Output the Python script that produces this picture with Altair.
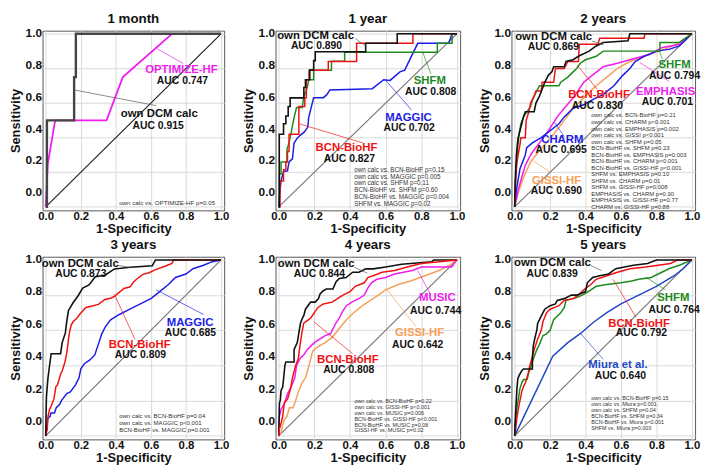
import altair as alt
import pandas as pd

FONT = "Liberation Sans"
TICKS = [0.0, 0.2, 0.4, 0.6, 0.8, 1.0]
X_DOMAIN = [-0.018, 1.018]
Y_DOMAIN = [-0.02, 1.018]
YLABEL_DOMAIN = [-0.115, 1.01]

C_OWN = "#111111"
C_RED = "#f01212"
C_BLUE = "#1c1ce6"
C_MIURA = "#2046c4"
C_GREEN = "#1e8a1e"
C_MAG = "#f01cf0"
C_ORANGE = "#f5a058"

TITLES = ["1 month", "1 year", "2 years", "3 years", "4 years", "5 years"]

# ---------------- curve data (1-specificity, sensitivity) ----------------
M1_OWN = [(0, 0), (0.007, 0.0), (0.007, 0.5), (0.162, 0.5), (0.162, 0.75), (0.172, 0.75), (0.172, 1.0), (1, 1)]
M1_OPT = [(0, 0), (0.012, 0.25), (0.054, 0.5), (0.347, 0.5), (0.44, 0.75), (0.72, 1.0), (1, 1)]

Y1_OWN = [(0, 0), (0.003, 0.0), (0.003, 0.42), (0.027, 0.42), (0.027, 0.48), (0.04, 0.48), (0.04, 0.525),
          (0.053, 0.525), (0.053, 0.58), (0.064, 0.58), (0.064, 0.63), (0.141, 0.63), (0.141, 0.69),
          (0.15, 0.69), (0.15, 0.735), (0.174, 0.735), (0.174, 0.79), (0.196, 0.79), (0.196, 0.845),
          (0.205, 0.845), (0.205, 0.896), (0.488, 0.896), (0.488, 0.945), (0.665, 0.945), (0.665, 1.0), (1, 1)]
Y1_BCN = [(0, 0), (0.007, 0.0), (0.007, 0.15), (0.027, 0.15), (0.027, 0.214), (0.04, 0.214), (0.04, 0.26),
          (0.049, 0.26), (0.049, 0.32), (0.058, 0.32), (0.058, 0.42), (0.113, 0.42), (0.113, 0.58),
          (0.146, 0.58), (0.146, 0.63), (0.155, 0.63), (0.155, 0.735), (0.17, 0.735), (0.17, 0.79),
          (0.278, 0.79), (0.278, 0.84), (0.437, 0.84), (0.437, 0.945), (0.753, 0.945), (0.753, 1.0), (1, 1)]
Y1_SHFM = [(0, 0), (0.004, 0.0), (0.004, 0.19), (0.013, 0.19), (0.013, 0.26), (0.046, 0.26), (0.046, 0.333),
           (0.055, 0.36), (0.068, 0.42), (0.086, 0.516), (0.1, 0.574), (0.132, 0.574), (0.14, 0.634),
           (0.16, 0.689), (0.168, 0.735), (0.196, 0.735), (0.196, 0.79), (0.296, 0.79), (0.296, 0.841),
           (0.37, 0.841), (0.37, 0.894), (0.89, 0.894), (0.89, 0.945), (0.973, 0.945), (0.973, 1.0), (1, 1)]
Y1_MAGGIC = [(0, 0), (0.007, 0.095), (0.013, 0.15), (0.027, 0.205), (0.049, 0.208), (0.058, 0.26),
             (0.077, 0.278), (0.086, 0.369), (0.104, 0.397), (0.122, 0.415), (0.144, 0.433), (0.163, 0.461),
             (0.168, 0.516), (0.196, 0.631), (0.25, 0.631), (0.269, 0.647), (0.287, 0.676), (0.525, 0.683),
             (0.589, 0.735), (0.625, 0.731), (0.68, 0.78), (0.707, 0.79), (0.78, 0.945), (0.954, 0.945),
             (0.973, 1.0), (1, 1)]

Y2_OWN = [(0, 0), (0.004, 0.17), (0.01, 0.3), (0.015, 0.36), (0.02, 0.4), (0.03, 0.44), (0.04, 0.48),
          (0.05, 0.52), (0.06, 0.55), (0.11, 0.55), (0.12, 0.6), (0.14, 0.64), (0.155, 0.68), (0.17, 0.72),
          (0.19, 0.76), (0.21, 0.78), (0.22, 0.81), (0.28, 0.81), (0.29, 0.84), (0.33, 0.85), (0.36, 0.87),
          (0.42, 0.9), (0.46, 0.93), (0.5, 0.95), (0.64, 0.96), (0.65, 1.0), (1, 1)]
Y2_BCN = [(0, 0), (0.005, 0.15), (0.012, 0.25), (0.02, 0.3), (0.03, 0.36), (0.035, 0.4), (0.06, 0.4),
          (0.065, 0.5), (0.08, 0.55), (0.09, 0.6), (0.11, 0.64), (0.12, 0.67), (0.15, 0.67), (0.155, 0.72),
          (0.22, 0.72), (0.23, 0.8), (0.28, 0.8), (0.3, 0.84), (0.36, 0.84), (0.365, 0.94), (0.47, 0.94),
          (0.48, 0.975), (0.73, 0.975), (0.735, 1.0), (1, 1)]
Y2_SHFM = [(0, 0), (0.004, 0.12), (0.01, 0.25), (0.018, 0.35), (0.025, 0.42), (0.035, 0.48), (0.05, 0.52),
           (0.07, 0.55), (0.09, 0.58), (0.1, 0.62), (0.12, 0.66), (0.14, 0.7), (0.25, 0.7), (0.26, 0.72),
           (0.3, 0.75), (0.33, 0.78), (0.35, 0.8), (0.37, 0.83), (0.4, 0.85), (0.46, 0.87), (0.5, 0.9),
           (0.82, 0.9), (0.82, 0.95), (0.93, 0.95), (0.97, 0.98), (1, 1)]
Y2_CHARM = [(0, 0), (0.01, 0.1), (0.03, 0.22), (0.06, 0.3), (0.068, 0.342), (0.1, 0.37), (0.15, 0.4),
            (0.2, 0.44), (0.25, 0.48), (0.28, 0.52), (0.33, 0.57), (0.39, 0.59), (0.44, 0.62), (0.5, 0.65),
            (0.56, 0.7), (0.61, 0.76), (0.65, 0.8), (0.68, 0.84), (0.73, 0.87), (0.8, 0.9), (0.87, 0.91),
            (0.93, 0.93), (1, 1)]
Y2_EMPH = [(0, 0), (0.02, 0.1), (0.04, 0.17), (0.06, 0.24), (0.09, 0.3), (0.11, 0.33), (0.14, 0.37),
           (0.19, 0.44), (0.24, 0.52), (0.28, 0.57), (0.33, 0.63), (0.39, 0.72), (0.45, 0.77), (0.5, 0.81),
           (0.58, 0.83), (0.65, 0.85), (0.76, 0.88), (0.83, 0.92), (0.93, 0.94), (1, 1)]
Y2_GISSI = [(0, 0), (0.02, 0.08), (0.05, 0.17), (0.09, 0.26), (0.12, 0.3), (0.17, 0.36), (0.22, 0.42),
            (0.28, 0.5), (0.33, 0.57), (0.4, 0.64), (0.46, 0.7), (0.52, 0.75), (0.58, 0.8), (0.65, 0.84),
            (0.76, 0.88), (0.87, 0.92), (0.93, 0.95), (1, 1)]

Y3_OWN = [(0, 0), (0.004, 0.22), (0.013, 0.33), (0.022, 0.4), (0.031, 0.467), (0.085, 0.467), (0.094, 0.53),
          (0.112, 0.585), (0.121, 0.658), (0.13, 0.713), (0.157, 0.758), (0.184, 0.795), (0.211, 0.84),
          (0.247, 0.858), (0.283, 0.904), (0.338, 0.913), (0.392, 0.949), (0.482, 0.958), (0.608, 0.967),
          (0.626, 1.0), (1, 1)]
Y3_BCN = [(0, 0), (0.009, 0.04), (0.013, 0.11), (0.022, 0.15), (0.031, 0.17), (0.047, 0.21), (0.058, 0.28),
          (0.067, 0.29), (0.085, 0.35), (0.094, 0.37), (0.11, 0.42), (0.12, 0.47), (0.13, 0.55),
          (0.135, 0.585), (0.145, 0.63), (0.157, 0.65), (0.175, 0.665), (0.193, 0.69), (0.211, 0.71),
          (0.229, 0.73), (0.265, 0.738), (0.3, 0.747), (0.338, 0.775), (0.374, 0.784), (0.392, 0.793),
          (0.446, 0.838), (0.482, 0.847), (0.5, 0.873), (0.518, 0.89), (0.554, 0.918), (0.59, 0.927),
          (0.626, 0.945), (0.68, 0.964), (0.72, 0.98), (0.73, 1.0), (1, 1)]
Y3_MAGGIC = [(0, 0), (0.005, 0.04), (0.012, 0.1), (0.025, 0.11), (0.03, 0.13), (0.05, 0.13), (0.06, 0.16),
             (0.08, 0.18), (0.09, 0.2), (0.12, 0.24), (0.14, 0.25), (0.17, 0.29), (0.19, 0.33), (0.2, 0.38),
             (0.22, 0.41), (0.25, 0.43), (0.28, 0.46), (0.3, 0.52), (0.32, 0.58), (0.34, 0.62), (0.37, 0.66),
             (0.42, 0.69), (0.48, 0.72), (0.54, 0.75), (0.6, 0.78), (0.65, 0.82), (0.7, 0.86), (0.74, 0.9),
             (0.8, 0.92), (0.84, 0.95), (0.9, 0.97), (0.95, 0.99), (1, 1)]

Y4_OWN = [(0, 0), (0.004, 0.185), (0.009, 0.204), (0.013, 0.258), (0.022, 0.276), (0.027, 0.322),
          (0.035, 0.404), (0.04, 0.42), (0.086, 0.42), (0.086, 0.49), (0.104, 0.53), (0.113, 0.585),
          (0.122, 0.64), (0.132, 0.667), (0.141, 0.685), (0.15, 0.72), (0.168, 0.745), (0.179, 0.76),
          (0.205, 0.76), (0.223, 0.78), (0.232, 0.807), (0.25, 0.825), (0.267, 0.835), (0.304, 0.835),
          (0.322, 0.876), (0.34, 0.895), (0.378, 0.9), (0.415, 0.93), (0.45, 0.93), (0.488, 0.949),
          (0.53, 0.949), (0.6, 0.96), (0.69, 0.975), (0.86, 0.99), (0.87, 1.0), (1, 1)]
Y4_BCN = [(0, 0), (0.004, 0.04), (0.013, 0.07), (0.022, 0.11), (0.031, 0.185), (0.05, 0.21), (0.068, 0.275),
          (0.077, 0.33), (0.095, 0.4), (0.11, 0.44), (0.12, 0.52), (0.13, 0.585), (0.14, 0.64), (0.16, 0.655),
          (0.18, 0.67), (0.2, 0.7), (0.22, 0.73), (0.25, 0.75), (0.3, 0.76), (0.33, 0.78), (0.36, 0.8),
          (0.4, 0.82), (0.43, 0.85), (0.48, 0.87), (0.5, 0.9), (0.53, 0.91), (0.58, 0.93), (0.65, 0.94),
          (0.72, 0.96), (0.8, 0.98), (0.9, 0.99), (1, 1)]
Y4_MUSIC = [(0, 0), (0.004, 0.11), (0.013, 0.15), (0.03, 0.18), (0.05, 0.24), (0.07, 0.28), (0.09, 0.33),
            (0.1, 0.4), (0.12, 0.44), (0.14, 0.46), (0.16, 0.49), (0.18, 0.51), (0.2, 0.53), (0.23, 0.55),
            (0.26, 0.57), (0.29, 0.58), (0.3, 0.6), (0.32, 0.64), (0.34, 0.67), (0.36, 0.71), (0.38, 0.74),
            (0.41, 0.76), (0.45, 0.78), (0.48, 0.8), (0.5, 0.84), (0.52, 0.87), (0.55, 0.89), (0.6, 0.9),
            (0.65, 0.92), (0.7, 0.93), (0.75, 0.94), (0.8, 0.96), (0.97, 0.96), (1, 1)]
Y4_GISSI = [(0, 0), (0.013, 0.02), (0.022, 0.06), (0.03, 0.09), (0.046, 0.11), (0.06, 0.16), (0.08, 0.16),
            (0.095, 0.2), (0.11, 0.25), (0.13, 0.3), (0.15, 0.33), (0.17, 0.4), (0.19, 0.48), (0.21, 0.5),
            (0.26, 0.53), (0.3, 0.56), (0.34, 0.61), (0.38, 0.66), (0.42, 0.7), (0.47, 0.74), (0.53, 0.78),
            (0.6, 0.83), (0.67, 0.86), (0.74, 0.88), (0.82, 0.91), (0.9, 0.94), (0.96, 0.97), (1, 1)]

Y5_OWN = [(0, 0), (0.004, 0.105), (0.013, 0.27), (0.018, 0.325), (0.026, 0.345), (0.04, 0.37), (0.05, 0.38),
          (0.1, 0.38), (0.1, 0.44), (0.105, 0.51), (0.115, 0.56), (0.125, 0.6), (0.13, 0.64), (0.15, 0.68),
          (0.16, 0.7), (0.17, 0.72), (0.2, 0.74), (0.23, 0.75), (0.24, 0.77), (0.28, 0.78), (0.32, 0.8),
          (0.35, 0.8), (0.4, 0.82), (0.41, 0.87), (0.44, 0.9), (0.48, 0.91), (0.53, 0.92), (0.57, 0.95),
          (0.62, 0.96), (0.67, 0.97), (0.75, 0.98), (0.8, 1.0), (1, 1)]
Y5_BCN = [(0, 0), (0.007, 0.05), (0.013, 0.105), (0.022, 0.16), (0.03, 0.2), (0.04, 0.25), (0.05, 0.28),
          (0.06, 0.3), (0.075, 0.35), (0.086, 0.4), (0.1, 0.45), (0.11, 0.49), (0.12, 0.52), (0.13, 0.55),
          (0.15, 0.6), (0.16, 0.65), (0.18, 0.7), (0.2, 0.72), (0.225, 0.73), (0.25, 0.74), (0.28, 0.77),
          (0.33, 0.78), (0.36, 0.8), (0.39, 0.83), (0.43, 0.86), (0.46, 0.89), (0.52, 0.91), (0.58, 0.93),
          (0.65, 0.95), (0.74, 0.96), (0.88, 0.98), (0.92, 1.0), (1, 1)]
Y5_SHFM = [(0, 0), (0.004, 0.07), (0.013, 0.16), (0.022, 0.215), (0.03, 0.27), (0.04, 0.3), (0.05, 0.32),
           (0.07, 0.32), (0.08, 0.36), (0.09, 0.39), (0.1, 0.42), (0.11, 0.45), (0.125, 0.49), (0.14, 0.52),
           (0.16, 0.57), (0.18, 0.58), (0.2, 0.6), (0.21, 0.63), (0.22, 0.66), (0.24, 0.68), (0.26, 0.7),
           (0.28, 0.73), (0.29, 0.77), (0.33, 0.78), (0.36, 0.79), (0.4, 0.81), (0.43, 0.83), (0.46, 0.85),
           (0.52, 0.86), (0.6, 0.87), (0.66, 0.88), (0.7, 0.89), (0.77, 0.9), (0.83, 0.93), (0.87, 0.95),
           (0.93, 0.97), (1, 1)]
Y5_MIURA = [(0, 0), (0.215, 0.453), (0.3, 0.53), (0.372, 0.582), (0.445, 0.646), (0.52, 0.7), (0.6, 0.75),
            (0.7, 0.8), (0.8, 0.85), (0.9, 0.91), (0.95, 0.95), (1, 1)]

# curves per panel: (points, colour, width)
CURVES = [
    [(M1_OPT, C_MAG, 1.8), (M1_OWN, "#444444", 2.4)],
    [(Y1_MAGGIC, C_BLUE, 1.5), (Y1_SHFM, C_GREEN, 1.5), (Y1_BCN, C_RED, 1.5), (Y1_OWN, C_OWN, 1.6)],
    [(Y2_GISSI, C_ORANGE, 1.5), (Y2_EMPH, C_MAG, 1.5), (Y2_CHARM, C_BLUE, 1.5), (Y2_SHFM, C_GREEN, 1.5),
     (Y2_BCN, C_RED, 1.5), (Y2_OWN, C_OWN, 1.6)],
    [(Y3_MAGGIC, C_BLUE, 1.5), (Y3_BCN, C_RED, 1.5), (Y3_OWN, C_OWN, 1.6)],
    [(Y4_GISSI, C_ORANGE, 1.5), (Y4_MUSIC, C_MAG, 1.5), (Y4_OWN, C_OWN, 1.6), (Y4_BCN, C_RED, 1.5)],
    [(Y5_MIURA, C_MIURA, 1.5), (Y5_SHFM, C_GREEN, 1.5), (Y5_BCN, C_RED, 1.5), (Y5_OWN, C_OWN, 1.6)],
]
DIAG_COLORS = ["#222222", "#777777", "#777777", "#777777", "#777777", "#777777"]

# model name labels: (text, colour, x, y)
NAMES = [
    [("OPTIMIZE-HF", C_MAG, 0.774, 0.79), ("own DCM calc", C_OWN, 0.648, 0.535)],
    [("own DCM calc", C_OWN, 0.207, 0.985), ("SHFM", C_GREEN, 0.848, 0.726), ("MAGGIC", C_BLUE, 0.728, 0.516),
     ("BCN-BioHF", C_RED, 0.38, 0.342)],
    [("own DCM calc", C_OWN, 0.22, 0.982), ("SHFM", C_GREEN, 0.902, 0.817), ("EMPHASIS", C_MAG, 0.852, 0.665),
     ("BCN-BioHF", C_RED, 0.476, 0.644), ("CHARM", C_BLUE, 0.269, 0.388), ("GISSI-HF", C_ORANGE, 0.236, 0.15)],
    [("own DCM calc", C_OWN, 0.197, 0.976), ("MAGGIC", C_BLUE, 0.823, 0.644), ("BCN-BioHF", C_RED, 0.536, 0.516)],
    [("own DCM calc", C_OWN, 0.21, 0.976), ("MUSIC", C_MAG, 0.89, 0.785), ("GISSI-HF", C_ORANGE, 0.79, 0.585),
     ("BCN-BioHF", C_RED, 0.388, 0.43)],
    [("own DCM calc", C_OWN, 0.213, 0.982), ("SHFM", C_GREEN, 0.895, 0.783), ("BCN-BioHF", C_RED, 0.702, 0.637),
     ("Miura et al.", C_MIURA, 0.583, 0.402)],
]
# AUC labels: (text, x, y)
AUCS = [
    [("AUC 0.747", 0.78, 0.726), ("AUC 0.915", 0.641, 0.47)],
    [("AUC 0.890", 0.212, 0.927), ("AUC 0.808", 0.852, 0.662), ("AUC 0.702", 0.732, 0.455),
     ("AUC 0.827", 0.397, 0.278)],
    [("AUC 0.869", 0.218, 0.921), ("AUC 0.794", 0.902, 0.757), ("AUC 0.701", 0.862, 0.607),
     ("AUC 0.830", 0.467, 0.583), ("AUC 0.695", 0.262, 0.329), ("AUC 0.690", 0.236, 0.09)],
    [("AUC 0.873", 0.2, 0.918), ("AUC 0.685", 0.825, 0.585), ("AUC 0.809", 0.54, 0.462)],
    [("AUC 0.844", 0.228, 0.918), ("AUC 0.744", 0.88, 0.707), ("AUC 0.642", 0.78, 0.516),
     ("AUC 0.808", 0.393, 0.376)],
    [("AUC 0.839", 0.212, 0.921), ("AUC 0.764", 0.9, 0.714), ("AUC 0.792", 0.715, 0.582),
     ("AUC 0.640", 0.596, 0.339)],
]
# leader lines: (colour, x, y, x2, y2)
LEADERS = [
    [(C_MAG, 0.635, 0.914, 0.785, 0.828), ("#555555", 0.166, 0.675, 0.63, 0.585)],
    [("#555555", 0.43, 0.972, 0.488, 0.93), (C_GREEN, 0.808, 0.894, 0.854, 0.768),
     (C_BLUE, 0.601, 0.731, 0.744, 0.561), (C_RED, 0.119, 0.479, 0.47, 0.37)],
    [("#555555", 0.437, 0.958, 0.502, 0.936), (C_GREEN, 0.815, 0.903, 0.834, 0.854),
     (C_MAG, 0.705, 0.835, 0.871, 0.726), (C_RED, 0.354, 0.817, 0.465, 0.68),
     (C_BLUE, 0.225, 0.488, 0.28, 0.406), (C_ORANGE, 0.1, 0.27, 0.2, 0.2)],
    [("#555555", 0.41, 0.97, 0.49, 0.955), (C_BLUE, 0.63, 0.83, 0.9, 0.69), (C_RED, 0.392, 0.804, 0.509, 0.549)],
    [("#555555", 0.424, 0.958, 0.497, 0.925), (C_MAG, 0.78, 0.94, 0.854, 0.8),
     (C_ORANGE, 0.607, 0.831, 0.771, 0.62), (C_RED, 0.196, 0.649, 0.415, 0.467)],
    [("#555555", 0.426, 0.97, 0.49, 0.94), (C_GREEN, 0.739, 0.903, 0.85, 0.83),
     (C_RED, 0.555, 0.89, 0.684, 0.675), (C_MIURA, 0.372, 0.582, 0.5, 0.435)],
]
# p-value comparisons
PVALS = [
    ["own calc vs. OPTIMIZE-HF  p=0.05"],
    ["own calc vs. BCN-BioHF  p=0.15", "own calc vs. MAGGIC   p=0.005", "own calc vs. SHFM  p=0.11",
     "BCN-BioHF vs. SHFM  p=0.60", "BCN-BioHF vs. MAGGIC   p=0.004", "SHFM vs. MAGGIC  p=0.02"],
    ["own calc vs. BCN-BioHF  p=0.21", "own calc vs. CHARM  p<0.001", "own calc vs. EMPHASIS  p=0.002",
     "own calc vs. GISSI  p<0.001", "own calc vs. SHFM  p=0.05", "BCN-BioHF vs. SHFM  p=0.23",
     "BCN-BioHF vs. EMPHASIS  p=0.003", "BCN-BioHF vs. CHARM  p<0.001", "BCN-BioHF vs. GISSI-HF  p<0.001",
     "SHFM vs. EMPHASIS  p=0.10", "SHFM vs. CHARM  p=0.01", "SHFM vs. GISSI-HF  p=0.008",
     "EMPHASIS vs. CHARM  p=0.90", "EMPHASIS vs. GISSI-HF  p=0.77", "CHARM vs. GISSI-HF  p=0.88"],
    ["own calc vs. BCN-BioHF  p=0.04", "own calc vs. MAGGIC   p<0.001", "BCN-BioHF vs. MAGGIC  p=0.001"],
    ["own calc vs. BCN-BioHF  p=0.22", "own calc vs. GISSI-HF  p<0.001", "own calc vs. MUSIC  p=0.006",
     "BCN-BioHF vs. GISSI-HF  p<0.001", "BCN-BioHF vs. MUSIC  p=0.08", "GISSI-HF vs. MUSIC  p=0.02"],
    ["own calc vs. BCN-BioHF  p=0.15", "own calc vs. Miura  p<0.001", "own calc vs. SHFM  p=0.04",
     "BCN-BioHF vs. SHFM  p=0.34", "BCN-BioHF vs. Miura  p<0.001", "SHFM vs. Miura  p=0.003"],
]
# p-block layout: (left x, top y, font size, line height)
PBLOCK = [(0.419, 0.04, 6.3, 7.0), (0.424, 0.232, 6.4, 7.0), (0.432, 0.545, 6.0, 6.6),
          (0.419, 0.13, 6.1, 7.0), (0.425, 0.21, 5.5, 6.0), (0.432, 0.225, 5.5, 6.0)]

WIDTHS = [184, 187, 186]
HEIGHTS = [182, 185]

XAXIS = alt.Axis(values=TICKS, format=".1f", title="1-Specificity", grid=True, gridColor="#d9d9d9",
                 ticks=False, domain=False, labelFlush=False, labelOverlap=False, labelFont=FONT,
                 labelFontSize=11.5, labelFontWeight="bold", labelColor="#111111", labelPadding=0,
                 titleFont=FONT, titleFontSize=13, titleFontWeight="bold", titleColor="#111111",
                 titlePadding=1)
YGRID = alt.Axis(values=TICKS, grid=True, gridColor="#d9d9d9", labels=False, ticks=False, domain=False,
                 title=None)
YLAB = alt.Axis(values=TICKS, format=".1f", orient="left", grid=False, ticks=False, domain=False,
                title="Sensitivity", labelFlush=False, labelOverlap=False, labelFont=FONT, labelFontSize=12,
                labelFontWeight="bold", labelColor="#111111", labelPadding=1, titleFont=FONT,
                titleFontSize=13, titleFontWeight="bold", titleColor="#111111", titlePadding=3)


def X(f="x"):
    return alt.X(f"{f}:Q", scale=alt.Scale(domain=X_DOMAIN, nice=False, zero=False), axis=XAXIS)


def Y(f="y"):
    return alt.Y(f"{f}:Q", scale=alt.Scale(domain=Y_DOMAIN, nice=False, zero=False), axis=YGRID)


def curve_df(pts):
    return pd.DataFrame({"x": [p[0] for p in pts], "y": [p[1] for p in pts], "i": list(range(len(pts)))})


def make_panel(k):
    layers = []
    diag = curve_df([(0, 0), (1, 1)])
    layers.append(alt.Chart(diag).mark_line(color=DIAG_COLORS[k], strokeWidth=1.2).encode(
        x=X(), y=Y(), order="i:Q"))
    for pts, col, w in CURVES[k]:
        layers.append(alt.Chart(curve_df(pts)).mark_line(color=col, strokeWidth=w).encode(
            x=X(), y=Y(), order="i:Q"))
    ld = pd.DataFrame(LEADERS[k], columns=["c", "x", "y", "x2", "y2"])
    layers.append(alt.Chart(ld).mark_rule(strokeWidth=0.9, opacity=0.75).encode(
        x=X(), y=Y(), x2="x2:Q", y2="y2:Q", color=alt.Color("c:N", scale=None)))
    nd = pd.DataFrame(NAMES[k], columns=["t", "c", "x", "y"])
    layers.append(alt.Chart(nd).mark_text(font=FONT, fontWeight="bold", fontSize=11.5).encode(
        x=X(), y=Y(), text="t:N", color=alt.Color("c:N", scale=None)))
    ad = pd.DataFrame(AUCS[k], columns=["t", "x", "y"])
    layers.append(alt.Chart(ad).mark_text(font=FONT, fontWeight="bold", fontSize=10.5, color="#111111").encode(
        x=X(), y=Y(), text="t:N"))
    px, py, fs, lh = PBLOCK[k]
    pdf = pd.DataFrame({"t": ["\n".join(PVALS[k])], "x": [px], "y": [py]})
    layers.append(alt.Chart(pdf).mark_text(font=FONT, fontSize=fs, lineHeight=lh, lineBreak="\n",
                                           align="left", baseline="top", color="#333333").encode(
        x=X(), y=Y(), text="t:N"))
    main = alt.layer(*layers)
    labdf = pd.DataFrame({"x": [0.5] * len(TICKS), "v": TICKS})
    lab = alt.Chart(labdf).mark_point(opacity=0).encode(
        x=X(), y=alt.Y("v:Q", scale=alt.Scale(domain=YLABEL_DOMAIN, nice=False, zero=False), axis=YLAB))
    return alt.layer(main, lab).resolve_scale(y="independent").properties(
        width=WIDTHS[k % 3], height=HEIGHTS[k // 3],
        title=alt.Title(TITLES[k], font=FONT, fontSize=13.5, fontWeight="bold", color="#111111",
                        offset=1, frame="group", anchor="middle"))


panels = [make_panel(k) for k in range(6)]
chart = alt.concat(*panels, columns=3, spacing={"row": 47, "column": 52}, bounds="flush").properties(
    padding=0, background="white").configure_view(stroke="#555555", strokeWidth=1)

chart.save("out.html", embed_options={"renderer": "svg", "actions": False})
